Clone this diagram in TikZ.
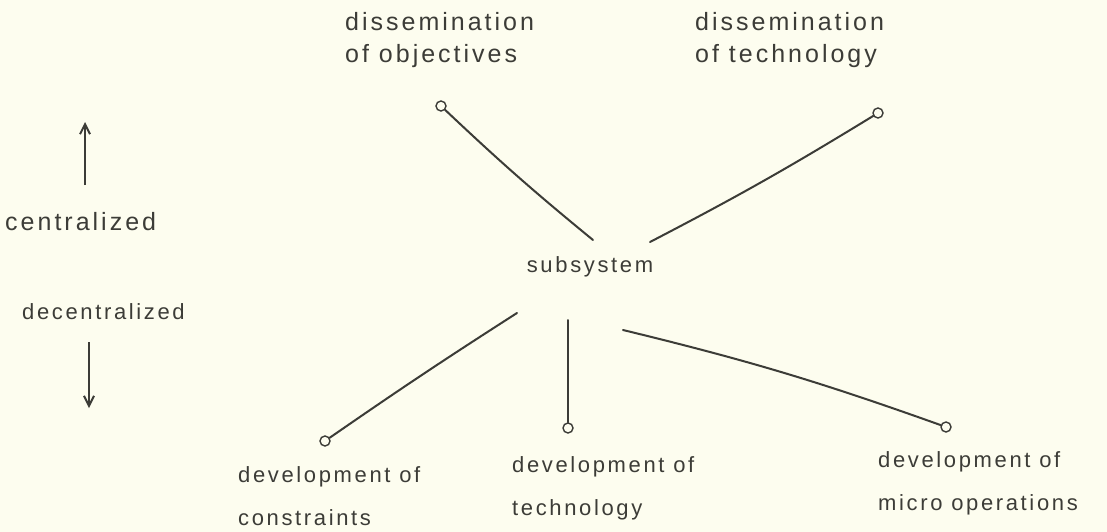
\documentclass[tikz,border=0pt]{standalone}
\usepackage{fontspec}
\usetikzlibrary{arrows.meta}
\setmainfont{Liberation Sans}[LetterSpace=12]
\definecolor{paper}{RGB}{253,253,239}
\definecolor{ink}{RGB}{60,60,55}
\begin{document}
\begin{tikzpicture}[x=1pt,y=-1pt,
  lbl/.style={text=ink,font=\fontsize{22}{32}\selectfont,align=left,inner sep=0pt},
  big/.style={font=\fontsize{25}{32}\selectfont},
  low/.style={font=\fontsize{22}{43}\selectfont},
  tip/.style={circle,draw=ink,line width=1.4pt,fill=paper,inner sep=0pt,minimum size=10pt},
  wire/.style={draw=ink,line width=2pt,line cap=round},
  axis/.style={draw=ink,line width=2pt,-{Straight Barb[length=10pt,width=10pt]}}]
\fill[paper] (0,0) rectangle (1107,532);
\useasboundingbox (0,0) rectangle (1107,532);
% labels
\node[lbl,big,anchor=west] (dobj) at (345,40) {dissemination\\of objectives};
\node[lbl,big,anchor=west] (dtech) at (695,40) {dissemination\\of technology};
\node[lbl] (sub) at (590,267) {subsystem};
\node[lbl,low,anchor=west] (dcon) at (238,496) {development of\\constraints};
\node[lbl,low,anchor=west] (dtec) at (512,488) {development of\\technology};
\node[lbl,low,anchor=west] (dmic) at (878,483) {development of\\micro operations};
\node[lbl,big,anchor=west] (cen) at (5,222) {centralized};
\node[lbl,anchor=west] (dec) at (22,312) {decentralized};
% tips
\node[tip] (t1) at (441,106) {};
\node[tip] (t2) at (878,113) {};
\node[tip] (t3) at (325,441) {};
\node[tip] (t4) at (568,428) {};
\node[tip] (t5) at (946,427) {};
% free ends near subsystem
\coordinate (s1) at (593,240);
\coordinate (s2) at (650,242);
\coordinate (s3) at (517,313);
\coordinate (s4) at (568,320);
\coordinate (s5) at (623,330);
\draw[wire] (t1) to[bend right=2] (s1);
\draw[wire] (t2) to[bend left=2] (s2);
\draw[wire] (t3) to[bend left=1] (s3);
\draw[wire] (t4) -- (s4);
\draw[wire] (t5) to[bend right=3] (s5);
% axis arrows
\coordinate (a1) at (85,185);
\coordinate (a2) at (85,122);
\coordinate (b1) at (89,342);
\coordinate (b2) at (89,408);
\draw[axis] (a1) -- (a2);
\draw[axis] (b1) -- (b2);
\end{tikzpicture}
\end{document}
